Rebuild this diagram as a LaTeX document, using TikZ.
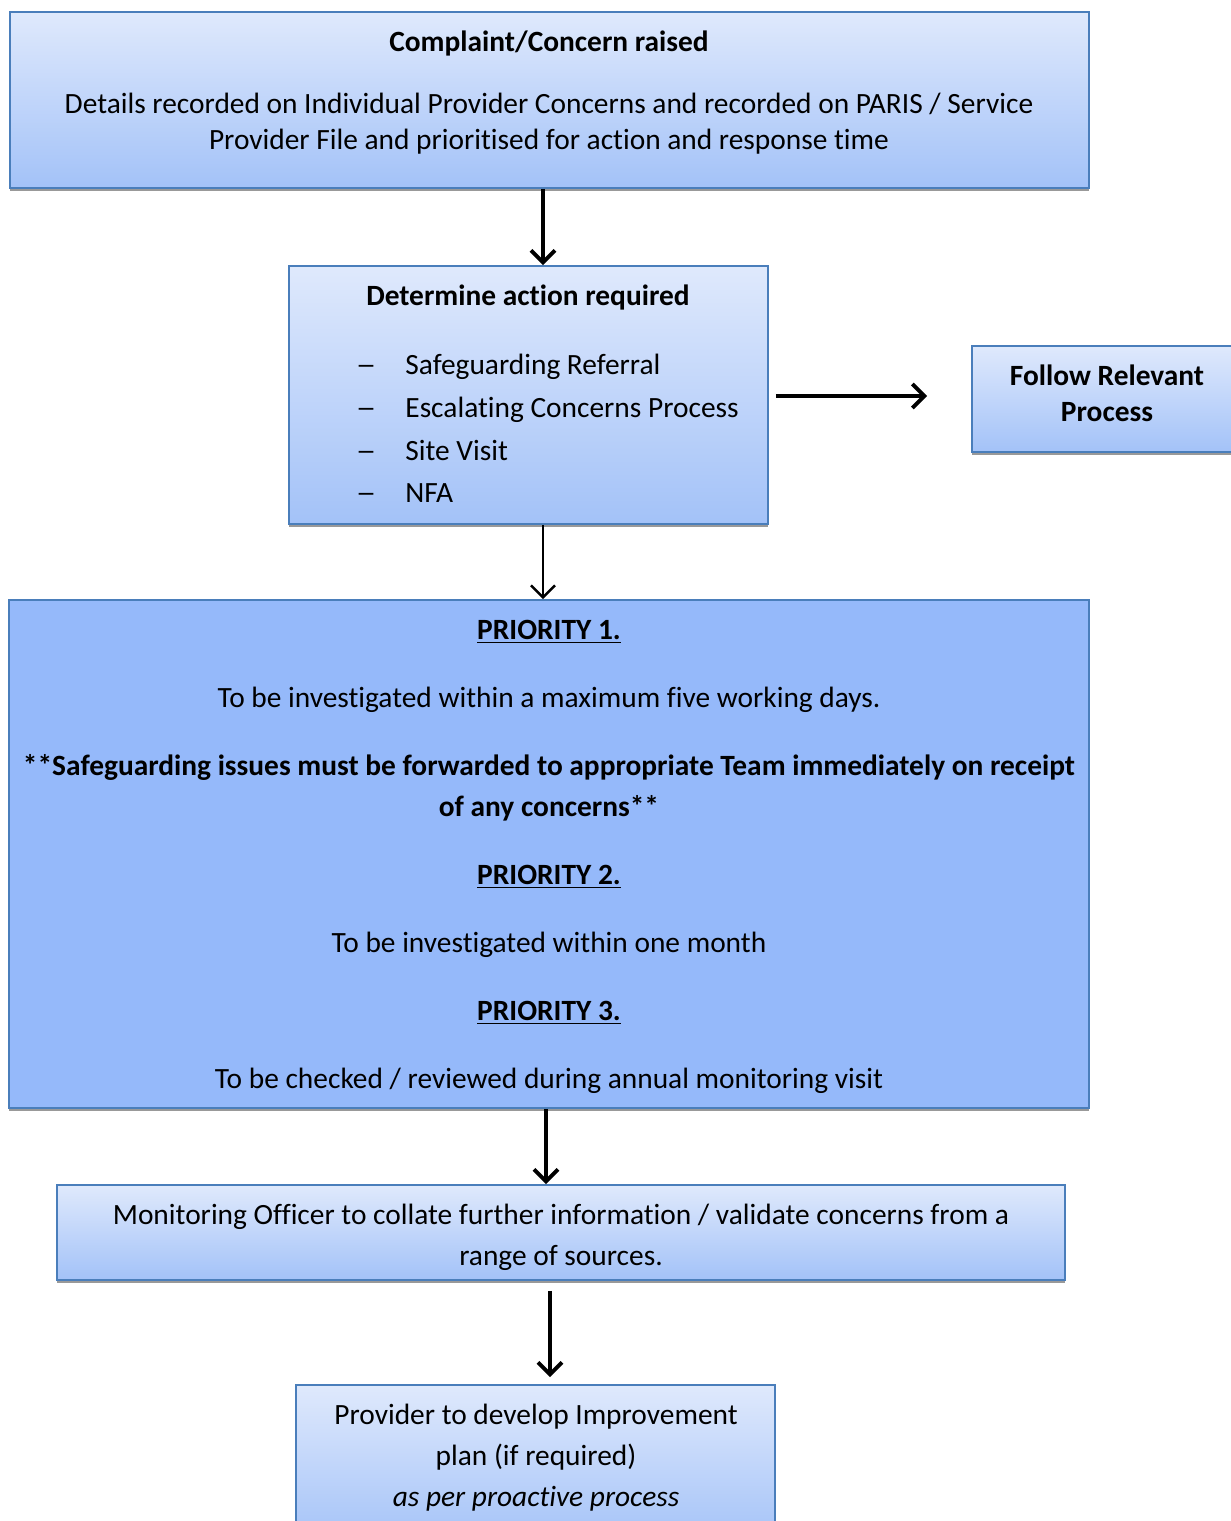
\documentclass[tikz,border=0pt]{standalone}
\usepackage{graphicx}
\usepackage{fontspec}
\setmainfont{Carlito}[Ligatures=NoCommon]
\usetikzlibrary{arrows.meta,shadows}

\begin{document}
\begin{tikzpicture}[x=0.5pt,y=-0.5pt,
		box/.style={draw=boxline,line width=0.8pt,rectangle,inner sep=0pt,
			drop shadow={shadow xshift=0pt,shadow yshift=-1.3pt,opacity=1,fill=black!40}},
		shadebox/.style={box,top color=boxtop,bottom color=boxbottom},
		flatbox/.style={box,fill=boxflat},
		txt/.style={anchor=base,inner sep=0pt,font=\fontsize{14.7}{18}\selectfont},
		btxt/.style={txt,font=\fontsize{14.7}{18}\selectfont\bfseries},
		flow/.style={line width=2pt,-{Straight Barb[length=6pt,width=12pt]}}]
		\definecolor{boxline}{HTML}{4A7EBB}
		\definecolor{boxtop}{HTML}{DFE9FC}
		\definecolor{boxbottom}{HTML}{A3C2F8}
		\definecolor{boxflat}{HTML}{95B9FA}

		\useasboundingbox (0,0) rectangle (1231,1521);
		\clip (0,0) rectangle (1231,1521);

		% boxes
		\node (raised) at (549.5,100) [shadebox,minimum width=539.5pt,minimum height=88pt] {};
		\node (action) at (528.5,395) [shadebox,minimum width=239.5pt,minimum height=129pt] {};
		\node (follow) at (1107,399) [shadebox,minimum width=135pt,minimum height=53pt] {};
		\node (priority) at (549,854) [flatbox,minimum width=540pt,minimum height=254pt] {};
		\node (collate) at (561,1232.5) [shadebox,minimum width=504pt,minimum height=47.5pt] {};
		\node (plan) at (535.5,1465) [shadebox,minimum width=239.5pt,minimum height=80pt] {};

		% texts
		\node (raisedT) at (549,51) [btxt] {Complaint/Concern raised};
		\node (raisedA) at (549,113) [txt] {Details recorded on Individual Provider Concerns and recorded on PARIS / Service};
		\node (raisedB) at (549,149) [txt] {Provider File and prioritised for action and response time};

		\node (actionT) at (528,305) [btxt] {Determine action required};
		\foreach \y/\item in {374/Safeguarding Referral,417/Escalating Concerns Process,460/Site Visit,502/NFA}{
			\node at (366,\y) [txt] {\scalebox{1.4}[1]{--}};
			\node at (405,\y) [txt,anchor=base west] {\item};
		}

		\node (followA) at (1107,385) [btxt] {Follow Relevant};
		\node (followB) at (1107,421) [btxt] {Process};

		\node (p1) at (549,639) [btxt] {\underline{PRIORITY 1.}};
		\node (p1A) at (549,707) [txt] {To be investigated within a maximum five working days.};
		\node (p1B) at (549,775) [btxt] {**Safeguarding issues must be forwarded to appropriate Team immediately on receipt};
		\node (p1C) at (549,816) [btxt] {of any concerns**};
		\node (p2) at (549,884) [btxt] {\underline{PRIORITY 2.}};
		\node (p2A) at (549,952) [txt] {To be investigated within one month};
		\node (p3) at (549,1020) [btxt] {\underline{PRIORITY 3.}};
		\node (p3A) at (549,1088) [txt] {To be checked / reviewed during annual monitoring visit};

		\node (collateA) at (561,1224) [txt] {Monitoring Officer to collate further information / validate concerns from a};
		\node (collateB) at (561,1265) [txt] {range of sources.};

		\node (planA) at (536,1424) [txt] {Provider to develop Improvement};
		\node (planB) at (536,1465) [txt] {plan (if required)};
		\node (planC) at (536,1506) [txt] {\itshape as per proactive process};

		% connectors
		\coordinate (spine) at (543,0);
		\coordinate (spineB) at (546,0);
		\coordinate (spineC) at (550,0);
		\draw [flow] (raised.south -| spine) -- (action.north -| spine);
		\draw [flow,line width=1.3pt] (action.south -| spine) -- (priority.north -| spine);
		\draw [flow,shorten <=3.5pt,shorten >=22pt] (action.east |- 0,396) -- (follow.west |- 0,396);
		\draw [flow] (priority.south -| spineB) -- (collate.north -| spineB);
		\draw [flow,shorten <=5pt,shorten >=3.5pt] (collate.south -| spineC) -- (plan.north -| spineC);
	\end{tikzpicture}
\end{document}
